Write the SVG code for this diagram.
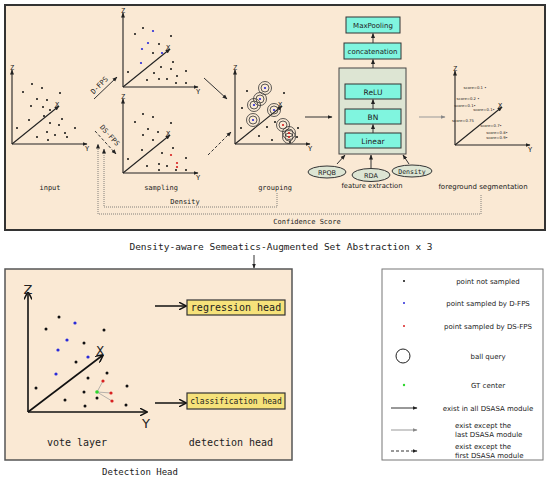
<svg xmlns="http://www.w3.org/2000/svg" width="550" height="480" viewBox="0 0 550 480">
<style>
.mono{font-family:"DejaVu Sans Mono","Liberation Mono",monospace;fill:#222}
.sans{font-family:"DejaVu Sans","Liberation Sans",sans-serif;fill:#222}
.ax{stroke:#222;stroke-width:1.1;fill:none}
.ax2{stroke:#111;stroke-width:1.6;fill:none}
.k{fill:#111}.b{fill:#2a2ad8}.r{fill:#d82020}.g{fill:#2ed82e}
.cy{fill:#80F5DF;stroke:#333;stroke-width:1}
.yel{fill:#F6E27A;stroke:#333;stroke-width:1.2}
.ell{fill:#DDE5D3;stroke:#333;stroke-width:1}
.ring{fill:none;stroke:#333;stroke-width:0.8}
.dot{fill:none;stroke:#666;stroke-width:0.8;stroke-dasharray:1 1}
.c1{stroke:#333;stroke-width:1;fill:none}
.c2{stroke:#999;stroke-width:1;fill:none}
.c3{stroke:#333;stroke-width:1;fill:none;stroke-dasharray:3 2}
</style>
<defs>
<marker id="ah" markerUnits="userSpaceOnUse" markerWidth="5" markerHeight="5" refX="4.5" refY="2.5" orient="auto"><path d="M0,0.5 L5,2.5 L0,4.5 z" fill="#222"/></marker>
<marker id="ahg" markerUnits="userSpaceOnUse" markerWidth="5" markerHeight="5" refX="4.5" refY="2.5" orient="auto"><path d="M0,0.5 L5,2.5 L0,4.5 z" fill="#888"/></marker>
<marker id="ahL" markerUnits="userSpaceOnUse" markerWidth="8" markerHeight="8" refX="7.5" refY="4" orient="auto"><path d="M0,0 L8,4 L0,8" fill="none" stroke="#111" stroke-width="1.5"/></marker>
<g id="axs">
<line class="ax" x1="0" y1="0" x2="0" y2="-74" marker-end="url(#ah)"/>
<line class="ax" x1="0" y1="0" x2="75" y2="0" marker-end="url(#ah)"/>
<line class="ax" x1="0" y1="0" x2="47" y2="-38" marker-end="url(#ah)"/>
<text class="mono" x="0" y="-74" font-size="7" text-anchor="middle">Z</text>
<text class="mono" x="75" y="7" font-size="7" text-anchor="middle">Y</text>
<text class="mono" x="45" y="-37" font-size="7" text-anchor="middle">X</text>
</g>
<g id="gc"><circle class="ring" r="6.5"/><circle class="ring" r="4"/></g>
</defs>

<g id="top-panel">
<rect x="5" y="5" width="540" height="225" fill="#FAE9D4" stroke="#333" stroke-width="2"/>
</g>
<g id="detection-panel">
<rect x="5" y="269" width="287" height="191" fill="#FAE9D4" stroke="#555" stroke-width="1.5"/>
</g>

<g id="input">
<use href="#axs" transform="translate(12,144)"/>
<g class="k">
<circle cx="32" cy="84" r="1"/><circle cx="23" cy="92" r="1"/><circle cx="42" cy="88" r="1"/><circle cx="60" cy="93" r="1"/>
<circle cx="37" cy="99" r="1"/><circle cx="47" cy="100" r="1"/><circle cx="31" cy="106" r="1"/><circle cx="43" cy="107" r="1"/>
<circle cx="50" cy="110" r="1"/><circle cx="29" cy="120" r="1"/><circle cx="44" cy="116" r="1"/><circle cx="62" cy="119" r="1"/>
<circle cx="50" cy="123" r="1"/><circle cx="59" cy="125" r="1"/><circle cx="17" cy="128" r="1"/><circle cx="75" cy="128" r="1"/>
<circle cx="47" cy="132" r="1"/><circle cx="55" cy="135" r="1"/><circle cx="65" cy="133" r="1"/><circle cx="37" cy="137" r="1"/>
<circle cx="67" cy="137" r="1"/><circle cx="48" cy="140" r="1"/>
</g>
<text class="mono" x="50" y="190" font-size="7" text-anchor="middle">input</text>
</g>

<g id="sampling-dfps">
<use href="#axs" transform="translate(123,87)"/>
<g class="k">
<circle cx="143" cy="28" r="1"/><circle cx="135" cy="34" r="1"/><circle cx="171" cy="36" r="1"/><circle cx="159" cy="44" r="1"/>
<circle cx="153" cy="53" r="1"/><circle cx="173" cy="62" r="1"/><circle cx="128" cy="72" r="1"/><circle cx="161" cy="67" r="1"/>
<circle cx="186" cy="71" r="1"/><circle cx="154" cy="73" r="1"/><circle cx="171" cy="69" r="1"/><circle cx="147" cy="80" r="1"/>
<circle cx="159" cy="79" r="1"/><circle cx="167" cy="79" r="1"/><circle cx="177" cy="76" r="1"/><circle cx="176" cy="83" r="1"/><circle cx="186" cy="83" r="1"/>
</g>
<g class="b">
<circle cx="153" cy="31" r="1.1"/><circle cx="148" cy="43" r="1.1"/><circle cx="142" cy="49" r="1.1"/><circle cx="162" cy="53" r="1.1"/><circle cx="141" cy="63" r="1.1"/>
</g>
</g>

<g id="sampling-dsfps">
<use href="#axs" transform="translate(123,173)"/>
<g class="k">
<circle cx="143" cy="114" r="1"/><circle cx="135" cy="122" r="1"/><circle cx="153" cy="117" r="1"/><circle cx="171" cy="123" r="1"/>
<circle cx="148" cy="129" r="1"/><circle cx="158" cy="132" r="1"/><circle cx="143" cy="135" r="1"/><circle cx="153" cy="140" r="1"/>
<circle cx="173" cy="148" r="1"/><circle cx="162" cy="153" r="1"/><circle cx="142" cy="150" r="1"/><circle cx="128" cy="159" r="1"/>
<circle cx="186" cy="158" r="1"/><circle cx="147" cy="166" r="1"/><circle cx="159" cy="164" r="1"/><circle cx="167" cy="166" r="1"/>
<circle cx="159" cy="170" r="1"/><circle cx="176" cy="170" r="1"/><circle cx="186" cy="170" r="1"/>
</g>
<g class="r">
<circle cx="171" cy="155" r="1.1"/><circle cx="177" cy="163" r="1.1"/><circle cx="177" cy="167" r="1.1"/>
</g>
<text class="mono" x="161" y="190" font-size="7" text-anchor="middle">sampling</text>
</g>

<g id="grouping">
<use href="#axs" transform="translate(235,144)"/>
<g class="k">
<circle cx="247" cy="91" r="1"/><circle cx="284" cy="93" r="1"/><circle cx="242" cy="108" r="1"/><circle cx="241" cy="128" r="1"/>
<circle cx="259" cy="136" r="1"/><circle cx="272" cy="140" r="1"/><circle cx="267" cy="127" r="1"/><circle cx="275" cy="122" r="1"/>
<circle cx="298" cy="128" r="1"/><circle cx="297" cy="137" r="1"/><circle cx="290" cy="142" r="1"/>
</g>
<use href="#gc" x="265" y="88"/><use href="#gc" x="260" y="99"/><use href="#gc" x="254" y="105"/><use href="#gc" x="274" y="110"/>
<use href="#gc" x="253" y="120"/><use href="#gc" x="283" y="125"/><use href="#gc" x="289" y="133"/><use href="#gc" x="289" y="137"/>
<g class="b">
<circle cx="265" cy="88" r="1.1"/><circle cx="260" cy="99" r="1.1"/><circle cx="254" cy="105" r="1.1"/><circle cx="274" cy="110" r="1.1"/><circle cx="253" cy="120" r="1.1"/>
</g>
<g class="r">
<circle cx="283" cy="125" r="1.1"/><circle cx="289" cy="133" r="1.1"/><circle cx="289" cy="137" r="1.1"/>
</g>
<text class="mono" x="275" y="190" font-size="7" text-anchor="middle">grouping</text>
</g>

<g id="feature-extraction">
<rect x="339" y="68" width="67" height="86" fill="#DDE5D3" stroke="#444" stroke-width="1"/>
<rect class="cy" x="345" y="133" width="56" height="15"/>
<text class="sans" x="373" y="143.5" font-size="7.5" text-anchor="middle">Linear</text>
<rect class="cy" x="345" y="109" width="56" height="15"/>
<text class="sans" x="373" y="119.5" font-size="7.5" text-anchor="middle">BN</text>
<rect class="cy" x="345" y="84" width="56" height="15"/>
<text class="sans" x="373" y="94.5" font-size="7.5" text-anchor="middle">ReLU</text>
<text class="sans" x="372" y="188" font-size="6.8" text-anchor="middle">feature extraction</text>
</g>
<g id="concatenation">
<rect class="cy" x="344" y="43" width="57" height="16"/>
<text class="sans" x="372.5" y="53.5" font-size="7" text-anchor="middle">concatenation</text>
</g>
<g id="maxpooling">
<rect class="cy" x="346" y="17" width="54" height="16"/>
<text class="sans" x="373" y="27.5" font-size="7" text-anchor="middle">MaxPooling</text>
</g>
<g id="rpqb">
<ellipse class="ell" cx="327" cy="172" rx="19" ry="6"/>
<text class="sans" x="327" y="174.5" font-size="6.5" text-anchor="middle">RPQB</text>
</g>
<g id="rda">
<ellipse class="ell" cx="371" cy="175" rx="19" ry="6.5"/>
<text class="sans" x="371" y="177.5" font-size="6.5" text-anchor="middle">RDA</text>
</g>
<g id="density">
<ellipse class="ell" cx="412" cy="171" rx="20" ry="6"/>
<text class="mono" x="412" y="173.5" font-size="6.5" text-anchor="middle">Density</text>
</g>

<g id="foreground-segmentation">
<use href="#axs" transform="translate(455,145)"/>
<g class="sans" font-size="3.8">
<text x="475" y="89" text-anchor="middle">score=0.1 •</text>
<text x="468" y="100" text-anchor="middle">score=0.2 •</text>
<text x="465" y="107" text-anchor="middle">score=0.1•</text>
<text x="484" y="111" text-anchor="middle">score=0.1•</text>
<text x="463" y="122" text-anchor="middle">score=0.75</text>
<text x="491" y="127" text-anchor="middle">score=0.7•</text>
<text x="497" y="134" text-anchor="middle">score=0.8•</text>
<text x="497" y="139" text-anchor="middle">score=0.9•</text>
</g>
<text class="sans" x="483" y="189" font-size="7" text-anchor="middle">foreground segmentation</text>
</g>

<g id="connectors">
<line class="c1" x1="94" y1="99" x2="117" y2="77" marker-end="url(#ah)"/>
<text class="mono" x="0" y="0" font-size="7" text-anchor="middle" transform="translate(101,87) rotate(-46)">D-FPS</text>
<line class="c3" x1="95" y1="131" x2="116" y2="154" marker-end="url(#ah)"/>
<text class="mono" x="0" y="0" font-size="7" text-anchor="middle" transform="translate(108,137) rotate(48)">DS-FPS</text>
<line class="c1" x1="204" y1="78" x2="227" y2="99" marker-end="url(#ah)"/>
<line class="c3" x1="208" y1="155" x2="231" y2="132" marker-end="url(#ah)"/>
<line class="c1" x1="305" y1="117" x2="332" y2="117" marker-end="url(#ah)"/>
<line class="c2" x1="419" y1="117" x2="445" y2="117" marker-end="url(#ahg)"/>
<line class="c1" x1="373" y1="133" x2="373" y2="124.5" marker-end="url(#ah)"/>
<line class="c1" x1="373" y1="109" x2="373" y2="99.5" marker-end="url(#ah)"/>
<line class="c1" x1="373" y1="68" x2="373" y2="59.5" marker-end="url(#ah)"/>
<line class="c1" x1="373" y1="43" x2="373" y2="33.5" marker-end="url(#ah)"/>
<line class="c1" x1="337" y1="164" x2="345" y2="155" marker-end="url(#ah)"/>
<line class="c1" x1="371" y1="168" x2="371" y2="155" marker-end="url(#ah)"/>
<line class="c1" x1="409" y1="164" x2="403" y2="155" marker-end="url(#ah)"/>
<polyline class="dot" points="277,193 277,207 104,207 104,149" marker-end="url(#ah)"/>
<text class="mono" x="185" y="204" font-size="7" text-anchor="middle">Density</text>
<polyline class="dot" points="481,195 481,214 98,214 98,144" marker-end="url(#ah)"/>
<text class="mono" x="307" y="224" font-size="7" text-anchor="middle">Confidence Score</text>
<text class="mono" x="281" y="250" font-size="9.5" text-anchor="middle">Density-aware Semeatics-Augmented Set Abstraction x 3</text>
<line class="c1" x1="254" y1="255" x2="254" y2="268" marker-end="url(#ah)"/>
<line stroke="#111" stroke-width="1.5" x1="155" y1="306" x2="186" y2="306" marker-end="url(#ahL)"/>
<line stroke="#111" stroke-width="1.5" x1="155" y1="403" x2="186" y2="403" marker-end="url(#ahL)"/>
</g>

<g id="vote-layer">
<line class="ax2" x1="28" y1="412" x2="28" y2="292" marker-end="url(#ahL)"/>
<line class="ax2" x1="28" y1="412" x2="147" y2="412" marker-end="url(#ahL)"/>
<line class="ax2" x1="28" y1="412" x2="103" y2="355" marker-end="url(#ahL)"/>
<text class="sans" x="28" y="294" font-size="13" text-anchor="middle">Z</text>
<text class="sans" x="100" y="355" font-size="12" text-anchor="middle">X</text>
<text class="sans" x="146" y="428" font-size="13" text-anchor="middle">Y</text>
<g stroke="#999" stroke-width="0.7">
<line x1="97" y1="392" x2="103" y2="381"/><line x1="97" y1="392" x2="111" y2="393"/><line x1="97" y1="392" x2="112" y2="401"/>
</g>
<g class="k">
<circle cx="59" cy="317" r="1.5"/><circle cx="46" cy="329" r="1.5"/><circle cx="104" cy="330" r="1.5"/><circle cx="84" cy="343" r="1.5"/>
<circle cx="76" cy="362" r="1.5"/><circle cx="107" cy="373" r="1.5"/><circle cx="88" cy="378" r="1.5"/><circle cx="36" cy="388" r="1.5"/>
<circle cx="127" cy="386" r="1.5"/><circle cx="84" cy="392" r="1.5"/><circle cx="97" cy="398" r="1.5"/><circle cx="65" cy="400" r="1.5"/>
<circle cx="85" cy="406" r="1.5"/><circle cx="126" cy="405" r="1.5"/>
</g>
<g class="b">
<circle cx="75" cy="323" r="1.6"/><circle cx="67" cy="340" r="1.6"/><circle cx="58" cy="350" r="1.6"/><circle cx="88" cy="357" r="1.6"/><circle cx="56" cy="374" r="1.6"/>
</g>
<g class="r">
<circle cx="103" cy="381" r="1.6"/><circle cx="111" cy="393" r="1.6"/><circle cx="112" cy="401" r="1.6"/>
</g>
<circle class="g" cx="97" cy="392" r="1.8"/>
<text class="mono" x="77" y="446" font-size="10" text-anchor="middle">vote layer</text>
</g>

<g id="regression-head">
<rect class="yel" x="187" y="300" width="98" height="15"/>
<text class="mono" x="236" y="311" font-size="10" text-anchor="middle">regression head</text>
</g>
<g id="classification-head">
<rect class="yel" x="187" y="393" width="98" height="16"/>
<text class="mono" x="236" y="404" font-size="8" text-anchor="middle">classification head</text>
</g>
<text class="mono" x="231" y="446" font-size="10" text-anchor="middle">detection head</text>
<text class="mono" x="140" y="475" font-size="9" text-anchor="middle">Detection Head</text>

<g id="legend">
<rect x="382" y="269" width="161" height="191" fill="#fff" stroke="#777" stroke-width="1"/>
<circle class="k" cx="404" cy="281" r="1"/>
<circle class="b" cx="404" cy="303" r="1"/>
<circle class="r" cx="404" cy="326" r="1"/>
<circle cx="403" cy="356" r="7" fill="none" stroke="#222" stroke-width="1"/>
<circle class="g" cx="404" cy="385" r="1.2"/>
<line class="c1" x1="391" y1="408" x2="417" y2="408" marker-end="url(#ah)" stroke="#555"/>
<line class="c2" x1="391" y1="430" x2="417" y2="430" marker-end="url(#ahg)"/>
<line class="c3" x1="391" y1="451" x2="417" y2="451" marker-end="url(#ah)"/>
<g class="sans" font-size="7">
<text x="488" y="283.5" text-anchor="middle">point not sampled</text>
<text x="488" y="305.5" text-anchor="middle">point sampled by D-FPS</text>
<text x="488" y="328.5" text-anchor="middle">point sampled by DS-FPS</text>
<text x="488" y="358.5" text-anchor="middle">ball query</text>
<text x="488" y="387.5" text-anchor="middle">GT center</text>
<text x="488" y="410.5" text-anchor="middle">exist in all DSASA module</text>
<text x="455" y="428">exist  except the</text>
<text x="455" y="437">last DSASA module</text>
<text x="455" y="449">exist  except the</text>
<text x="455" y="458">first DSASA module</text>
</g>
</g>
</svg>
